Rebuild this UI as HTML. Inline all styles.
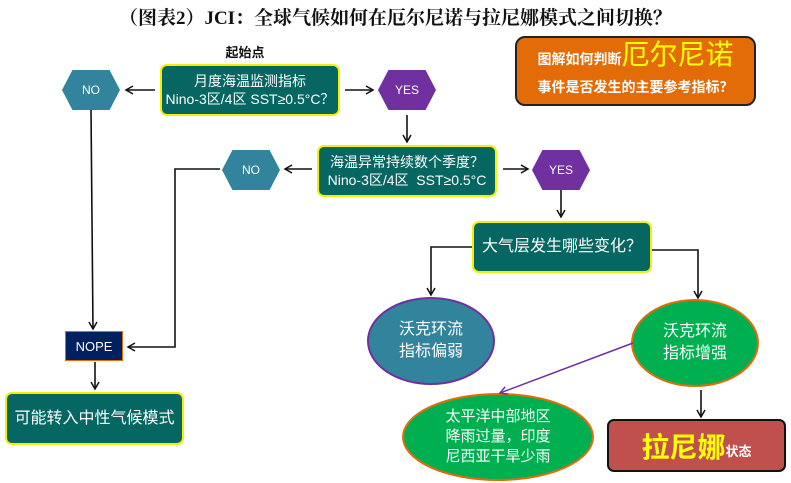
<!DOCTYPE html>
<html><head><meta charset="utf-8"><style>
body{margin:0;width:791px;height:483px;background:#fff;overflow:hidden;position:relative;font-family:"Liberation Sans","Noto Sans CJK SC",sans-serif}
.a{position:absolute;box-sizing:border-box;display:flex;align-items:center;justify-content:center;text-align:center;color:#fff}
.box{background:#056662;border:2px solid #f4f000;border-radius:7px;font-size:13px;line-height:18px}
.hex{clip-path:polygon(18% 0,82% 0,100% 50%,82% 100%,18% 100%,0 50%);font-size:12px}
</style></head><body>
<div class="a" style="left:0;top:1px;width:791px;height:30px;color:#111;font:bold 19px 'Liberation Serif','Noto Serif CJK SC',serif">（图表2）JCI：全球气候如何在厄尔尼诺与拉尼娜模式之间切换？</div>
<div class="a" style="left:215px;top:42px;width:60px;height:18px;color:#111;font-weight:bold;font-size:13px">起始点</div>
<svg width="791" height="483" style="position:absolute;left:0;top:0">
<defs><marker id="m" markerWidth="10" markerHeight="10" refX="8" refY="5" orient="auto" markerUnits="userSpaceOnUse"><path d="M1,1 L8,5 L1,9" fill="none" stroke="#111" stroke-width="1.5"/></marker>
<marker id="p" markerWidth="10" markerHeight="10" refX="8" refY="5" orient="auto" markerUnits="userSpaceOnUse"><path d="M1,1 L8,5 L1,9" fill="none" stroke="#7030a0" stroke-width="1.5"/></marker></defs>
<g stroke="#111" stroke-width="1.6" fill="none" marker-end="url(#m)">
<path d="M155,90 L126,90"/><path d="M345,90 L373,90"/><path d="M407,115 L407,142"/>
<path d="M312,169 L285,169"/><path d="M503,169 L528,169"/><path d="M561,190 L561,217"/>
<path d="M91,110 L93,329"/><path d="M220,169 L175,169 L175,347 L128,347"/><path d="M95,362 L95,389"/>
<path d="M472,247 L431,247 L431,295"/><path d="M652,250 L698,250 L698,298"/><path d="M701,390 L701,417"/>
</g>
<ellipse cx="431" cy="341" rx="63" ry="43" fill="#31849b" stroke="#7030a0" stroke-width="2"/>
<ellipse cx="695" cy="343" rx="63" ry="43" fill="#00b050" stroke="#e36c09" stroke-width="2"/>
<ellipse cx="498" cy="437" rx="95" ry="43" fill="#00b050" stroke="#e36c09" stroke-width="2"/>
<path d="M633,343 L500,393" stroke="#7030a0" stroke-width="1.5" fill="none" marker-end="url(#p)"/>
</svg>
<div class="a box" style="left:160px;top:64px;width:180px;height:52px;font-size:14px">月度海温监测指标<br>Nino-3区/4区 SST≥0.5°C？</div>
<div class="a box" style="left:317px;top:145px;width:180px;height:52px;font-size:14px">海温异常持续数个季度？<br>Nino-3区/4区 &nbsp;SST≥0.5°C</div>
<div class="a box" style="left:472px;top:221px;width:180px;height:52px;font-size:16px">大气层发生哪些变化？</div>
<div class="a box" style="left:5px;top:392px;width:179px;height:53px;font-size:16px">可能转入中性气候模式</div>
<div class="a hex" style="left:62px;top:70px;width:58px;height:40px;background:#31849b">NO</div>
<div class="a hex" style="left:222px;top:150px;width:58px;height:40px;background:#31849b">NO</div>
<div class="a hex" style="left:378px;top:70px;width:58px;height:40px;background:#7030a0">YES</div>
<div class="a hex" style="left:532px;top:150px;width:58px;height:40px;background:#7030a0">YES</div>
<div class="a" style="left:65px;top:331px;width:58px;height:30px;background:#002060;border:1px solid #e36c09;font-size:13px">NOPE</div>
<div class="a" style="left:515px;top:36px;width:241px;height:70px;background:#e36c09;border:2px solid #222;border-radius:10px;flex-direction:column;font-weight:bold;font-size:14px;line-height:28px"><div>图解如何判断<span style="color:#ffff00;font-size:28px;font-weight:normal">厄尔尼诺</span></div><div>事件是否发生的主要参考指标？</div></div>
<div class="a" style="left:369px;top:311px;width:124px;height:60px;font-size:16px;line-height:22px">沃克环流<br>指标偏弱</div>
<div class="a" style="left:632px;top:313px;width:126px;height:60px;font-size:16px;line-height:22px">沃克环流<br>指标增强</div>
<div class="a" style="left:403px;top:406px;width:190px;height:62px;font-size:15px;line-height:20px">太平洋中部地区<br>降雨过量，印度<br>尼西亚干旱少雨</div>
<div class="a" style="left:607px;top:419px;width:179px;height:53px;background:#c0504d;border:2px solid #111;border-radius:7px;font-weight:bold"><span style="color:#ffff00;font-size:28px">拉尼娜</span><span style="font-size:13px;margin-top:10px">状态</span></div>
</body></html>
